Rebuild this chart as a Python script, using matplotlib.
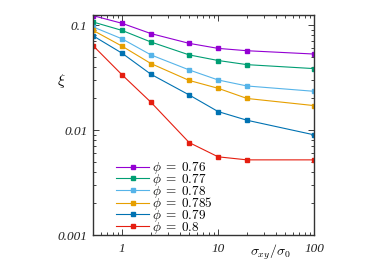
import matplotlib
matplotlib.use("Agg")
import matplotlib.pyplot as plt
from matplotlib.ticker import LogLocator, FixedLocator, FixedFormatter, NullFormatter

plt.rcParams['mathtext.fontset'] = 'cm'
plt.rcParams['font.family'] = 'serif'
plt.rcParams['font.serif'] = ['Liberation Serif', 'DejaVu Serif']

x = [0.5, 1, 2, 5, 10, 20, 100]
phis = ['0.76', '0.77', '0.78', '0.785', '0.79', '0.8']
xi_076 = [0.123, 0.104, 0.083, 0.067, 0.060, 0.057, 0.053]
xi_077 = [0.107, 0.089, 0.069, 0.052, 0.046, 0.042, 0.0385]
xi_078 = [0.096, 0.074, 0.052, 0.0374, 0.030, 0.0263, 0.0234]
xi_0785 = [0.089, 0.063, 0.043, 0.0297, 0.025, 0.020, 0.0171]
xi_079 = [0.079, 0.054, 0.034, 0.0216, 0.015, 0.0124, 0.0090]
xi_080 = [0.0636, 0.0336, 0.0184, 0.0076, 0.00556, 0.0052, 0.0052]
series = [xi_076, xi_077, xi_078, xi_0785, xi_079, xi_080]
colors = ['#9400d3', '#009e73', '#56b4e9', '#e69f00', '#0072b2', '#e51e10']

xticks = [1, 10, 100]
xticklabels = ['1', '10', '100']
yticks = [0.001, 0.01, 0.1]
yticklabels = ['0.001', '0.01', '0.1']

fig = plt.figure(figsize=(3.74, 2.62), dpi=100)
ax = fig.add_axes([0.249, 0.103, 0.591, 0.840])

for ys, c, p in zip(series, colors, phis):
    ax.plot(x, ys, color=c, lw=0.8, marker='s', ms=2.3, label=r'$\phi\;=\;%s$' % p)

ax.set_xscale('log')
ax.set_yscale('log')
ax.set_xlim(0.5, 100)
ax.set_ylim(0.001, 0.125)

ax.xaxis.set_major_locator(FixedLocator(xticks))
ax.xaxis.set_major_formatter(FixedFormatter(xticklabels))
ax.yaxis.set_major_locator(FixedLocator(yticks))
ax.yaxis.set_major_formatter(FixedFormatter(yticklabels))
ax.xaxis.set_minor_locator(LogLocator(base=10, subs=range(2, 10)))
ax.yaxis.set_minor_locator(LogLocator(base=10, subs=range(2, 10)))
ax.xaxis.set_minor_formatter(NullFormatter())
ax.yaxis.set_minor_formatter(NullFormatter())
ax.tick_params(which='both', direction='in', top=True, right=True, labelsize=9.5, width=0.6, colors='#222222')
ax.tick_params(which='major', length=4)
ax.tick_params(which='minor', length=2)
ax.tick_params(axis='x', pad=6)
ax.tick_params(axis='y', pad=4)
for lab in ax.get_xticklabels() + ax.get_yticklabels():
    lab.set_fontstyle('italic')
for s in ax.spines.values():
    s.set_linewidth(1.0)
    s.set_color('#333333')

fig.text(0.165, 0.69, r'$\xi$', fontsize=11, ha='center', va='center')
fig.text(0.722, 0.024, r'$\sigma_{xy}/\sigma_0$', fontsize=10, ha='center', va='baseline')

leg = ax.legend(loc='lower left', bbox_to_anchor=(0.074, -0.033), frameon=False, fontsize=9.5,
                handlelength=2.5, labelspacing=-0.33, handletextpad=0.25, borderaxespad=0.3,
                borderpad=0.2)

fig.savefig('out.png', dpi=100)
